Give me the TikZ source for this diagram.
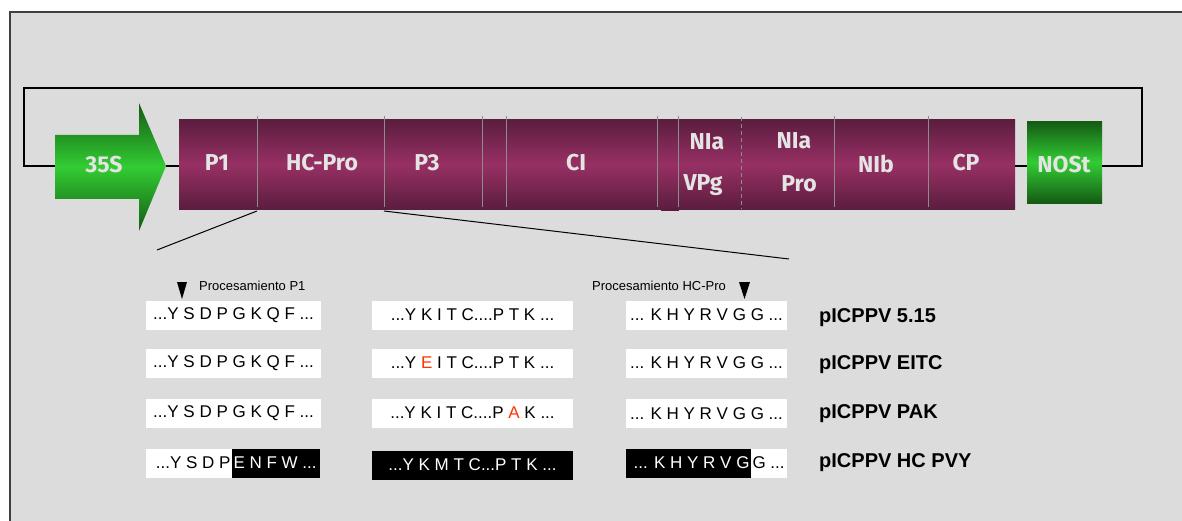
\documentclass[tikz,border=0pt]{standalone}
\usepackage{fontspec}
\setmainfont{Liberation Sans}
\newfontfamily\genefont{Fira Sans}
\usetikzlibrary{calc}
\definecolor{panel}{HTML}{DCDCDC}
\definecolor{mdark}{HTML}{5B1D3E}
\definecolor{mmid}{HTML}{973064}
\definecolor{gdark}{HTML}{145A14}
\definecolor{gbright}{HTML}{33CC33}
\definecolor{labgray}{HTML}{E4E4E4}
\definecolor{divgray}{HTML}{8C8C8C}
\definecolor{mutred}{HTML}{FF3300}
\tikzset{
  gene/.style={font=\genefont\bfseries\fontsize{23}{26}\selectfont, text=labgray, inner sep=0pt},
  divider/.style={draw=divgray, line width=0.9pt},
  seqbox/.style={fill=white, draw=none, minimum height=29pt, inner sep=0pt, font=\fontsize{17}{20}\selectfont},
  blackbox/.style={seqbox, fill=black, text=white},
  seqtext/.style={inner xsep=1.5pt, inner ysep=0pt, font=\fontsize{17}{20}\selectfont},
  construct/.style={font=\bfseries\fontsize{20}{24}\selectfont, anchor=west, inner sep=0pt},
  note/.style={font=\fontsize{13}{15}\selectfont, anchor=west, inner sep=0pt},
  loopline/.style={line width=1.8pt, black},
  zoomline/.style={line width=1pt, black}
}
\begin{document}
\begin{tikzpicture}[x=1pt,y=-1pt]
\useasboundingbox (0,0) rectangle (1182,521);
\fill[white] (0,0) rectangle (1182,521);
\path[fill=panel, draw=black!75, line width=1.2pt] (10,12) rectangle (1200,540);

% polyprotein
\node[name=poly, anchor=north west, minimum width=836pt, minimum height=90pt, inner sep=0pt,
      top color=mdark, bottom color=mdark, middle color=mmid] at (179,119) {};
\foreach \x in {257,384,482,506,657,678,834,928}
  \draw[divider] (\x,116) -- (\x,207);
\draw[divider, dash pattern=on 4pt off 3pt] (741,117) -- (741,209);
\fill[mdark] (661,208) rectangle (679,211);

% NOSt
\node[name=nost, anchor=north west, minimum width=75pt, minimum height=82pt, inner sep=0pt,
      top color=gdark, bottom color=gdark, middle color=gbright] at (1027,121) {};

% 35S arrow
\shade[top color=gdark, bottom color=gdark, middle color=gbright]
  (55,135) -- (139,135) -- (139,103) -- (166,166) -- (139,231) -- (139,199) -- (55,199) -- cycle;
\coordinate (s35w) at (55,166);
\coordinate (s35tip) at (166,166);

% connecting lines
\draw[loopline] (nost.east |- s35w) -| (1142,88) -| (24,166) -- (s35w);
\draw[loopline] (s35tip) -- (poly.west |- s35tip);
\draw[loopline] (poly.east |- s35tip) -- (nost.west |- s35tip);

% labels
\node[gene] (l35s) at (104,165) {35S};
\node[gene] (lp1) at (217,163) {P1};
\node[gene] (lhc) at (322,163) {HC-Pro};
\node[gene] (lp3) at (427,163) {P3};
\node[gene] (lci) at (576,163) {CI};
\node[gene] (lnia1) at (707,142) {NIa};
\node[gene] (lvpg) at (703,185) {VPg};
\node[gene] (lnia2) at (794,141) {NIa};
\node[gene] (lpro) at (799,184) {Pro};
\node[gene] (lnib) at (876,164) {NIb};
\node[gene] (lcp) at (966,163) {CP};
\node[gene] (lnost) at (1064,165) {NOSt};

% zoom lines
\coordinate (d1) at (257,211);
\coordinate (d2) at (384,211);
\coordinate (z1) at (157,250);
\coordinate (z2) at (789,259);
\draw[zoomline] (d1) -- (z1);
\draw[zoomline] (d2) -- (z2);

% processing markers
\fill[black] (177,282) -- (187,282) -- (182,299) -- cycle;
\fill[black] (739,282) -- (750,282) -- (744.5,299) -- cycle;
\node[note] (n1) at (199,286) {Procesamiento P1};
\node[note] (n2) at (592,286) {Procesamiento HC-Pro};

% row 1
\node[seqbox, minimum width=175pt] (a1) at (233.5,315) {...Y S D P G K Q F ...};
\node[seqbox, minimum width=201pt] (b1) at (472.5,315) {...Y K I T C....P T K ...};
\node[seqbox, minimum width=161pt] (c1) at (706.5,315) {... K H Y R V G G ...};
\node[construct] (p1) at (819,318) {pICPPV 5.15};
% row 2
\node[seqbox, minimum width=175pt] (a2) at (233.5,363) {...Y S D P G K Q F ...};
\node[seqbox, minimum width=201pt] (b2) at (472.5,363) {...Y \textcolor{mutred}{E} I T C....P T K ...};
\node[seqbox, minimum width=161pt] (c2) at (706.5,363) {... K H Y R V G G ...};
\node[construct] (p2) at (819,365) {pICPPV EITC};
% row 3
\node[seqbox, minimum width=175pt] (a3) at (233.5,413.5) {...Y S D P G K Q F ...};
\node[seqbox, minimum width=201pt] (b3) at (472.5,413) {...Y K I T C....P \textcolor{mutred}{A} K ...};
\node[seqbox, minimum width=161pt] (c3) at (706.5,413.5) {... K H Y R V G G ...};
\node[construct] (p3) at (819,414) {pICPPV PAK};
% row 4
\node[seqbox, minimum width=86pt] (a4l) at (189,463) {};
\node[blackbox, minimum width=88pt] (a4r) at (276,463) {};
\node[seqtext, anchor=east] (a4lt) at (a4l.east) {...Y S D P};
\node[seqtext, anchor=west, text=white] (a4rt) at (a4r.west) {E N F W ...};
\node[blackbox, minimum width=201pt] (b4) at (472.5,465) {...Y K M T C...P T K ...};
\node[blackbox, minimum width=125pt] (c4l) at (688.5,463) {};
\node[seqbox, minimum width=36pt] (c4r) at (769,463) {};
\node[seqtext, anchor=east, text=white] (c4lt) at (c4l.east) {... K H Y R V G};
\node[seqtext, anchor=west] (c4rt) at (c4r.west) {G ...};
\node[construct] (p4) at (819,463) {pICPPV HC PVY};
\end{tikzpicture}
\end{document}
